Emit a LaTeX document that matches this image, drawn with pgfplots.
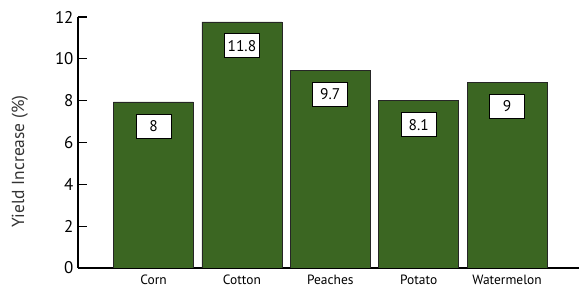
\documentclass[border=0pt]{standalone}
\usepackage{pgfplots}
\pgfplotsset{compat=1.18}
\usepackage{fontspec}
\setmainfont{PT Sans}
\definecolor{bargreen}{RGB}{59,102,34}
\begin{document}
\begin{tikzpicture}
\begin{axis}[
  name=ax,
  scale only axis,
  width=501bp, height=251bp,
  xmin=-0.854, xmax=4.813,
  ymin=0, ymax=12,
  axis lines*=left,
  axis line style={-, line width=1.1pt, black},
  xtick={0,1,2,3,4},
  xticklabels={Corn,Cotton,Peaches,Potato,Watermelon},
  x tick style={draw=none},
  xticklabel style={font=\fontsize{13.5}{13.5}\selectfont, yshift=5.5bp},
  ytick={0,2,4,6,8,10,12},
  tick align=inside,
  major tick length=9bp,
  y tick style={line width=1.1pt, black},
  yticklabel style={font=\fontsize{17}{17}\selectfont, xshift=-1bp},
  /pgf/number format/assume math mode=true,
  ylabel={Yield Increase (\%)},
  every axis y label/.style={at={(axis description cs:-0.116,0.424)}, rotate=90, anchor=center, font=\fontsize{17.5}{17.5}\selectfont, text=black!80},
  ybar, bar width=80bp,
  point meta=explicit symbolic,
  nodes near coords,
  every node near coord/.append style={anchor=center, yshift=-24bp, draw=black, line width=0.8pt, fill=white, minimum width=35bp, minimum height=24bp, inner sep=0pt, font=\fontsize{15.5}{15.5}\selectfont, text=black},
]
\addplot[fill=bargreen, draw=black!85, line width=0.6pt] table[meta=label] {
x y label
0 7.94 8
1 11.77 11.8
2 9.44 9.7
3 8.00 8.1
4 8.88 9
};
\end{axis}
\pgfresetboundingbox
\path ([xshift=-78bp,yshift=-20bp]ax.south west) rectangle ([xshift=503bp,yshift=268bp]ax.south west);
\end{tikzpicture}
\end{document}
